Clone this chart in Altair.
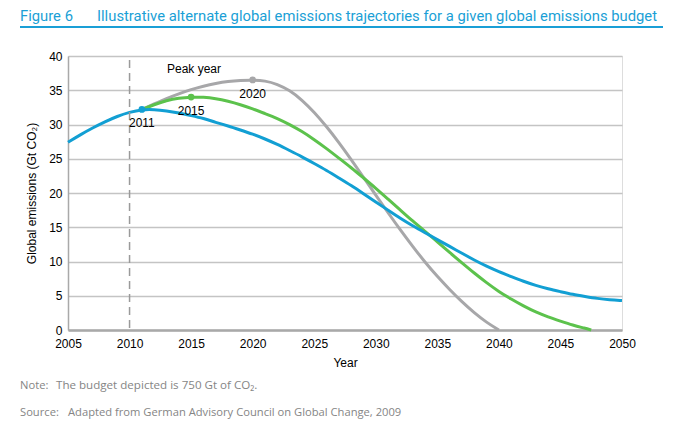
import altair as alt
import pandas as pd

# ---- data ----
blue_years = [2005, 2006, 2007, 2008, 2009, 2010, 2011, 2012, 2013, 2014, 2015, 2016, 2017, 2018,
              2019, 2020, 2021, 2022, 2023, 2024, 2025, 2026, 2027, 2028, 2029, 2030, 2031, 2032,
              2033, 2034, 2035, 2036, 2037, 2038, 2039, 2040, 2041, 2042, 2043, 2044, 2045, 2046,
              2047, 2048, 2049, 2050]
blue_values = [27.4, 28.5, 29.5, 30.4, 31.2, 31.8, 32.2, 32.2, 32.0, 31.7, 31.3, 30.9, 30.3, 29.8,
               29.2, 28.6, 27.9, 27.1, 26.2, 25.3, 24.3, 23.3, 22.2, 21.1, 19.9, 18.7, 17.5, 16.3,
               15.2, 14.2, 13.2, 12.2, 11.2, 10.2, 9.3, 8.5, 7.8, 7.1, 6.5, 6.0, 5.6, 5.2,
               4.9, 4.6, 4.4, 4.3]

green_years = [2011, 2012, 2013, 2014, 2015, 2016, 2017, 2018, 2019, 2020, 2021, 2022, 2023, 2024,
               2025, 2026, 2027, 2028, 2029, 2030, 2031, 2032, 2033, 2034, 2035, 2036, 2037, 2038,
               2039, 2040, 2041, 2042, 2043, 2044, 2045, 2046, 2047, 2047.5]
green_values = [32.2, 32.9, 33.5, 33.85, 34.0, 34.0, 33.8, 33.4, 32.9, 32.3, 31.6, 30.9, 30.0, 29.0,
                27.8, 26.5, 25.1, 23.7, 22.2, 20.7, 19.1, 17.5, 15.9, 14.4, 12.9, 11.3, 9.8, 8.3,
                6.9, 5.6, 4.5, 3.5, 2.6, 1.9, 1.3, 0.7, 0.25, 0.0]

gray_years = [2011, 2012, 2013, 2014, 2015, 2016, 2017, 2018, 2019, 2020, 2021, 2022, 2023, 2024,
              2025, 2026, 2027, 2028, 2029, 2030, 2031, 2032, 2033, 2034, 2035, 2036, 2037, 2038,
              2039, 2040]
gray_values = [32.2, 33.0, 33.8, 34.5, 35.1, 35.6, 36.0, 36.3, 36.45, 36.5, 36.4, 35.9, 35.0, 33.6,
               31.8, 29.7, 27.4, 24.9, 22.3, 19.7, 17.1, 14.6, 12.2, 9.9, 7.8, 5.9, 4.1, 2.5,
               1.1, 0.0]

peak_years = [2011, 2015, 2020]
peak_values = [32.2, 34.0, 36.5]
peak_series = ["Peak 2011", "Peak 2015", "Peak 2020"]
peak_labels = ["2011", "2015", "2020"]

x_ticks = [2005, 2010, 2015, 2020, 2025, 2030, 2035, 2040, 2045, 2050]
y_ticks = [0, 5, 10, 15, 20, 25, 30, 35, 40]
current_year = [2010]

series_names = ["Peak 2020", "Peak 2015", "Peak 2011"]
series_colors = ["#a7a7a9", "#5cc24c", "#129fd3"]

title_num = "Figure 6"
title_text = "Illustrative alternate global emissions trajectories for a given global emissions budget"
note_head = "Note:"
note_text = "The budget depicted is 750 Gt of CO\u2082."
source_head = "Source:"
source_text = "Adapted from German Advisory Council on Global Change, 2009"

# ---- tables ----
rows = []
for name, ys, vs in [("Peak 2020", gray_years, gray_values),
                     ("Peak 2015", green_years, green_values),
                     ("Peak 2011", blue_years, blue_values)]:
    for y, v in zip(ys, vs):
        rows.append({"year": y, "value": v, "series": name})
lines_df = pd.DataFrame(rows)
peaks_df = pd.DataFrame({"year": peak_years, "value": peak_values,
                         "series": peak_series, "label": peak_labels})

W, H = 554, 274
TEAL = "#1a9fd6"
FOOT = "#858585"

xscale = alt.Scale(domain=[2005, 2050], nice=False)
yscale = alt.Scale(domain=[0, 40], nice=False)
cscale = alt.Scale(domain=series_names, range=series_colors)

x_axis = alt.Axis(values=x_ticks, format="d", grid=False, tickSize=0,
                  labelPadding=8, labelFlush=False, labelOverlap=False,
                  domainColor="#a9a9a9", domainWidth=2.5,
                  labelFont="Liberation Sans", labelFontSize=12, labelColor="#000",
                  titleFont="Liberation Sans", titleFontSize=12, titleFontWeight="normal",
                  titleColor="#000", titlePadding=8)
y_axis = alt.Axis(values=y_ticks, grid=True, gridColor="#c4c4c4", gridWidth=1.5,
                  tickSize=0, labelPadding=6, labelOverlap=False, labelFlush=False,
                  domainColor="#a9a9a9", domainWidth=1.5,
                  labelFont="Liberation Sans", labelFontSize=12, labelColor="#000",
                  titleFont="Liberation Sans", titleFontSize=12, titleFontWeight="normal",
                  titleColor="#000", titlePadding=10)
px = alt.X("year:Q", scale=xscale, title="Year", axis=x_axis)
py = alt.Y("value:Q", scale=yscale, title="Global emissions (Gt CO\u2082)", axis=y_axis)

lines = alt.Chart(lines_df).mark_line(interpolate="basis", strokeWidth=3).encode(
    x=px, y=py,
    color=alt.Color("series:N", scale=cscale, legend=None),
    detail="series:N",
)

dash = alt.Chart(pd.DataFrame({"year": current_year})).mark_rule(
    color="#9a9a9a", strokeDash=[8, 5], strokeWidth=1.5
).encode(x=px, y=alt.value(4), y2=alt.value(H))

pts = alt.Chart(peaks_df).mark_point(filled=True, size=45, opacity=1).encode(
    x=px, y=py,
    color=alt.Color("series:N", scale=cscale, legend=None),
)

plabels = alt.Chart(peaks_df).mark_text(
    baseline="top", dy=9, font="Liberation Sans", fontSize=12, color="#000"
).encode(x=px, y=py, text="label:N")

peak_head = alt.Chart(pd.DataFrame({"t": ["Peak year"]})).mark_text(
    font="Liberation Sans", fontSize=12, color="#000", align="center", baseline="middle"
).encode(x=alt.value(126), y=alt.value(13), text="t:N")

def txt(s, x, y, color, size, font, baseline="middle"):
    return alt.Chart(pd.DataFrame({"t": [s]})).mark_text(
        font=font, fontSize=size, color=color, align="left", baseline=baseline
    ).encode(x=alt.value(x), y=alt.value(y), text="t:N")

t1 = txt(title_num, -48, -39, TEAL, 14.8, "Roboto")
t2 = txt(title_text, 29, -39, TEAL, 14.8, "Roboto")
uline = alt.Chart(pd.DataFrame({"a": [0]})).mark_rule(color=TEAL, strokeWidth=2).encode(
    x=alt.value(-48), x2=alt.value(595), y=alt.value(-29))
n1 = txt(note_head, -48, 330, FOOT, 11.2, "Open Sans")
n2 = txt(note_text, -12, 330, FOOT, 11.6, "Open Sans")
s1 = txt(source_head, -48, 357, FOOT, 11.2, "Open Sans")
s2 = txt(source_text, 0, 357, FOOT, 11.2, "Open Sans")

chart = alt.layer(lines, dash, pts, plabels, peak_head, t1, t2, uline, n1, n2, s1, s2).properties(
    width=W, height=H,
    autosize=alt.AutoSizeParams(type="none"),
    padding={"left": 60, "top": 48, "right": 55, "bottom": 109},
).configure_view(stroke=None).configure(background="white")

chart.save("out.html", embed_options={"renderer": "svg", "actions": False})
